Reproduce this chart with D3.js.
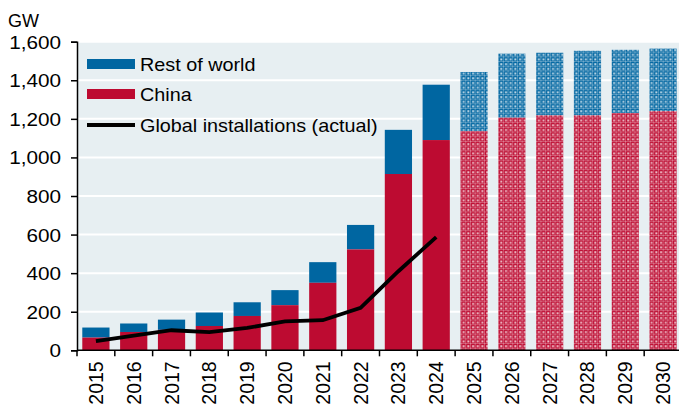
<!DOCTYPE html>
<html>
<head>
<meta charset="utf-8">
<script src="https://cdn.jsdelivr.net/npm/d3@7"></script>
<style>
  body { margin: 0; background: #fff; }
  text { font-family: "Liberation Sans", Arial, sans-serif; fill: #000; }
</style>
</head>
<body>
<svg id="chart" width="679" height="408"></svg>
<script>
// data
var years = ["2015","2016","2017","2018","2019","2020","2021","2022","2023","2024","2025","2026","2027","2028","2029","2030"];
var china = [66, 95, 106, 126, 178, 234, 350, 523, 914, 1090, 1136, 1206, 1218, 1218, 1230, 1240];
var total = [118, 139, 159, 196, 249, 312, 457, 650, 1143, 1377, 1443, 1538, 1543, 1553, 1558, 1564];
var actual = [47, 76, 104, 94, 116, 150, 156, 220, 410, 587];
var forecastFrom = "2025";
var yTicks = [0, 200, 400, 600, 800, 1000, 1200, 1400, 1600];
var legendItems = ["Rest of world", "China", "Global installations (actual)"];

var blue = "#0066a1", red = "#bd0b31", bg = "#e7eff2";

var svg = d3.select("#chart");

var x = d3.scaleBand()
    .domain(years)
    .range([77, 682])
    .paddingInner(0.28)
    .paddingOuter(0.14);

var y = d3.scaleLinear()
    .domain([0, 1600])
    .range([350.3, 41.7]);

// dotted fills for the forecast years
var defs = svg.append("defs");
function dotPattern(id, col){
    var p = defs.append("pattern")
        .attr("id", id)
        .attr("patternUnits", "userSpaceOnUse")
        .attr("width", 4.7).attr("height", 4.7);
    p.append("rect").attr("width", 4.7).attr("height", 4.7).attr("fill", col);
    p.append("rect").attr("x", 0).attr("y", 0).attr("width", 4.7).attr("height", 1)
        .attr("fill", "#fff").attr("opacity", 0.3);
    p.append("rect").attr("x", 0).attr("y", 0).attr("width", 1).attr("height", 4.7)
        .attr("fill", "#fff").attr("opacity", 0.3);
    p.append("rect").attr("x", 2.1).attr("y", 2.1).attr("width", 2).attr("height", 2)
        .attr("fill", "#fff").attr("opacity", 0.75);
}
dotPattern("dotBlue", blue);
dotPattern("dotRed", red);

// plot background + white gridlines
svg.append("rect")
    .attr("x", 77).attr("y", y(1600))
    .attr("width", 679 - 77).attr("height", y(0) - y(1600))
    .attr("fill", bg);

svg.append("g")
    .selectAll("line")
    .data(yTicks.slice(1))
    .enter()
    .append("line")
    .attr("x1", 77).attr("x2", 679)
    .attr("y1", function(d){ return y(d); })
    .attr("y2", function(d){ return y(d); })
    .attr("stroke", "#fff")
    .attr("stroke-width", 2);

var rows = years.map(function(yr, i){
    return {year: yr, china: china[i], total: total[i], fc: yr >= forecastFrom};
});

// rest of world (top part)
svg.append("g")
    .selectAll("rect")
    .data(rows)
    .enter()
    .append("rect")
    .attr("x", function(d){ return x(d.year); })
    .attr("width", x.bandwidth())
    .attr("y", function(d){ return y(d.total); })
    .attr("height", function(d){ return y(d.china) - y(d.total); })
    .attr("fill", function(d){ return d.fc ? "url(#dotBlue)" : blue; });

// china (bottom part)
svg.append("g")
    .selectAll("rect")
    .data(rows)
    .enter()
    .append("rect")
    .attr("x", function(d){ return x(d.year); })
    .attr("width", x.bandwidth())
    .attr("y", function(d){ return y(d.china); })
    .attr("height", function(d){ return y(0) - y(d.china); })
    .attr("fill", function(d){ return d.fc ? "url(#dotRed)" : red; });

// actual installations line
var line = d3.line()
    .x(function(d, i){ return x(years[i]) + x.bandwidth() / 2; })
    .y(function(d){ return y(d); });

svg.append("path")
    .datum(actual)
    .attr("d", line)
    .attr("fill", "none")
    .attr("stroke", "#000")
    .attr("stroke-width", 3.8);

// y axis
var yAxis = svg.append("g")
    .attr("transform", "translate(77,0)")
    .call(d3.axisLeft(y).tickValues(yTicks).tickSize(6).tickFormat(d3.format(",")));
yAxis.select(".domain").attr("stroke", "#000").attr("stroke-width", 1.5);
yAxis.selectAll(".tick line").attr("stroke", "#000").attr("stroke-width", 1.5);
yAxis.selectAll(".tick text")
    .attr("font-size", 18.5)
    .attr("x", null)
    .attr("dy", null)
    .attr("transform", "translate(-16,6.5) scale(1.12,1)");

// x axis, ticks sit between bars
var xAxis = svg.append("g")
    .attr("transform", "translate(0," + y(0) + ")");
xAxis.append("line")
    .attr("x1", 77).attr("x2", 679)
    .attr("stroke", "#000").attr("stroke-width", 1.5);
xAxis.selectAll(".xt")
    .data(years)
    .enter()
    .append("line")
    .attr("x1", function(d){ return x(d) - x.step() * 0.14; })
    .attr("x2", function(d){ return x(d) - x.step() * 0.14; })
    .attr("y1", 0).attr("y2", 6)
    .attr("stroke", "#000").attr("stroke-width", 1.5);
xAxis.selectAll(".xl")
    .data(years)
    .enter()
    .append("text")
    .attr("text-anchor", "end")
    .attr("font-size", 19.5)
    .attr("transform", function(d){
        return "translate(" + (x(d) + x.bandwidth() / 2 + 7) + ",11) scale(1.07,1) rotate(-90)";
    })
    .text(function(d){ return d; });

// unit label
svg.append("text")
    .attr("transform", "translate(8,27)")
    .attr("font-size", 18)
    .text("GW");

// legend
var leg = svg.append("g");
var legY = [64, 94, 125];
legendItems.forEach(function(name, i){
    if(i < 2){
        leg.append("rect")
            .attr("x", 87).attr("y", legY[i] - 5)
            .attr("width", 48).attr("height", 10)
            .attr("fill", i == 0 ? blue : red);
    }else{
        leg.append("line")
            .attr("x1", 87).attr("x2", 135)
            .attr("y1", legY[i]).attr("y2", legY[i])
            .attr("stroke", "#000").attr("stroke-width", 3.8);
    }
    leg.append("text")
        .attr("transform", "translate(140," + (legY[i] + 6.5) + ") scale(1.1,1)")
        .attr("font-size", 18)
        .text(name);
});
</script>
</body>
</html>
